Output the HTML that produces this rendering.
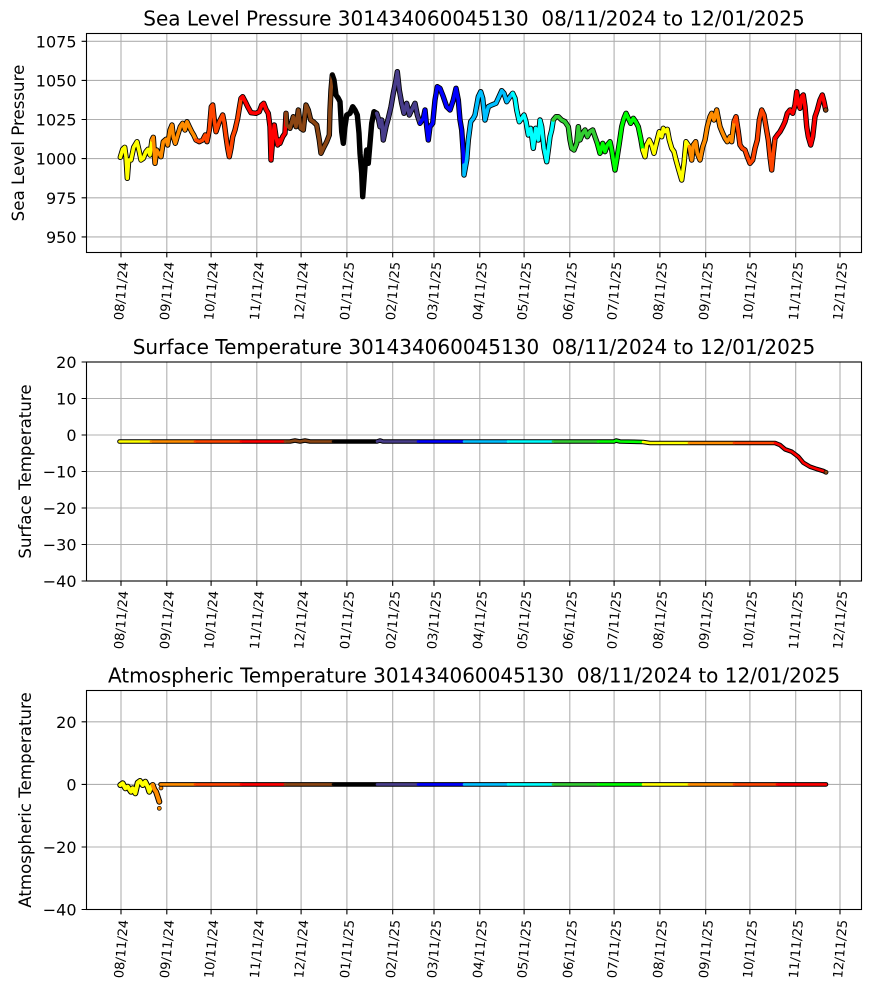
<!DOCTYPE html>
<html><head><meta charset="utf-8"><style>
html,body{margin:0;padding:0;background:#fff;}
svg{display:block;}
text{font-family:"DejaVu Sans","Liberation Sans",sans-serif;fill:#000;}
.t{font-size:20px;white-space:pre;}
.yl{font-size:16.67px;}
.yt{font-size:16px;}
.xt{font-size:13px;}
.g{stroke:#b0b0b0;stroke-width:1.1;fill:none;}
.k{stroke:#000;stroke-width:1.1;fill:none;}
.b{fill:none;stroke:#000;stroke-width:5.4;stroke-linejoin:round;stroke-linecap:round;}
.c{fill:none;stroke-width:3.6;stroke-linejoin:round;stroke-linecap:round;}
.b2{fill:none;stroke:#000;stroke-width:4.6;stroke-linejoin:round;stroke-linecap:round;}
.c2{fill:none;stroke-width:2.6;stroke-linejoin:round;stroke-linecap:round;}
</style></head><body>
<svg width="870" height="992" viewBox="0 0 870 992" xmlns="http://www.w3.org/2000/svg">
<rect width="870" height="992" fill="#fff"/>

<!-- ================= PLOT 1 ================= -->
<g class="g">
<path d="M121,33.5V252.5M166.8,33.5V252.5M211.1,33.5V252.5M256.8,33.5V252.5M301.1,33.5V252.5M346.9,33.5V252.5M392.7,33.5V252.5M434,33.5V252.5M479.8,33.5V252.5M524.1,33.5V252.5M569.8,33.5V252.5M614.1,33.5V252.5M659.9,33.5V252.5M705.7,33.5V252.5M749.9,33.5V252.5M795.7,33.5V252.5M840,33.5V252.5"/>
<path d="M86.5,41.3H861.5M86.5,80.4H861.5M86.5,119.5H861.5M86.5,158.6H861.5M86.5,197.8H861.5M86.5,236.9H861.5"/>
</g>
<g>
<polyline class="b" points="120.3,157.3 122.7,149.3 124.7,147.3 126,156.7 127.3,178.3 128.7,160 131,160 133.7,147.3 137,141.7 139.3,151.7 141,160 143.3,158.3 146,151.7 148,149.3 150,155 152,140 153.3,137.3 155,163.3 156.7,150 158.7,153.3 161,156.7 163.3,141.7 166,139.3 167.7,145 170,130 172,125 173.3,136.7 175.3,143.3 177.7,135 180.3,126.7 182.7,123.3 185,130 187,121.7 189.3,126.7 191.7,131.7 193.7,135 196,140 199.3,141.7 202.7,140 205.3,135 207,141.7 209.3,130 211.3,106.7 212.7,105 214.3,120 216,131.7 217.7,126.7 219.3,121.7 221,118.3 222.7,115 224.3,123.3 226,136.7 227.7,148.3 229.3,156.7 231,148.3 232.7,136.7 235,130 237.7,118.3 239.3,108.3 241,98.3 242.7,96.7 245.3,101.7 247.7,106.7 251,112.7 256,113.3 259.3,111.7 261.7,105 263.7,103.3 266,109.3 268.3,113.3 270,126.7 271,160 272.7,140 274.3,125 276,136.7 277.7,145 279.3,140 280,143.3 282.7,136.7 285,133.3 286,113.3 286.7,125 290,128.3 293.3,116.7 296,126.7 298.3,110 300.7,128.3 303.3,130 306,105 308.3,110 310.7,120 313.3,121.7 316.7,125 319.3,140 321,153.3 323.3,148.3 326.7,141.7 329.3,135 330,110 331,90 332.3,75 334,80 336,95 338.3,98.3 340,101.7 341.7,131.7 343.3,143.3 345,126.7 346.7,115 350,113.3 352.7,106.7 355,110 357.3,115 359,133.3 360,153.3 361.7,173.3 362.7,196.7 365,166.7 366.7,150 368.3,163.3 370,143.3 371.7,123.3 374,111.7 376.7,113.3 378.3,118.3 380,126.7 381.7,120 383.3,140 386,126.7 388.3,118.3 391,106.7 393.3,93.3 396,80 397.3,71.7 399.3,90 401.7,103.3 404,113.3 406.7,103.3 409.3,115 411.7,110 415,103.3 417.3,115 420,123.3 423.3,118.3 425,110 426.7,126.7 428.3,140 430,126.7 432.7,123.3 435,100 437.3,86.7 440,88.3 443.3,96.7 446.7,106.7 450,110 453.3,100 456,88.3 458.3,100 460,120 461.7,130 463.3,153.3 464,175 466.7,160 468.3,140 470.7,121.7 473.3,118.3 475,115 478.3,96.7 480.7,91.7 482.7,98.3 485,120 488.3,106.7 491.7,105 496,103.3 498.3,98.3 501.7,90.7 504,93.3 506.7,101.7 510,96.7 512.7,93.3 515,98.3 516.7,110 519.3,121.7 521.7,118.3 524,115 526,121.7 528.3,135 530.7,128.3 533.3,148.3 535.7,128.3 538.3,140 540,120 541.7,126.7 544,148.3 546.7,161.7 548.3,150 550,136.7 551.7,130 553.3,120 556,116.7 558.3,116.7 561.7,120 565,121.7 568.3,126.7 570,140 571.7,148.3 574,150 576.7,143.3 578.3,126.7 580,140 582.7,133.3 585,130 587.3,136.7 590,131.7 592.7,130 595,136.7 597.3,143.3 600,153.3 602.7,143.3 605,151.7 607.3,145 610,141.7 611.7,150 613.3,160 615,170 616.7,160 619.3,143.3 621.7,126.7 624,118.3 626,113.3 628.3,118.3 630.7,123.3 633.3,118.3 635.7,121.7 638.3,126.7 640.7,138.3 642.7,150 645,156.7 646.7,145 649.3,140 651.7,145 654,153.3 656.7,141.7 659.3,131.7 661.7,136.7 663.3,128.3 665,131.7 667.3,129.3 669.3,140 671.7,148.3 674,151.7 676,160 678.3,168.3 681.7,180 684,163.3 686,141.7 689.3,146.7 691.7,160 693.3,145 695.7,141.7 697.3,153.3 700,160 702.7,146.7 705,140 707.3,126.7 710,116.7 711.7,113.3 714,120 716.7,110 718.3,118.3 720,126.7 722.7,133.3 725,138.3 727.3,141.7 730,136.7 731.7,141.7 734,121.7 736,116.7 738.3,131.7 740,145 742.3,148.3 745,150 747.3,156.7 750,163.3 752.7,160 755,148.3 757.3,140 759.3,120 761.7,110 764,115 766,126.7 768.3,140 770,156.7 771.7,170 773.3,153.3 775,138.3 777.3,135 780,131.7 782.7,126.7 785,121.7 787.3,113.3 790,110 792.7,113.3 795,105 796.7,91.7 798.3,103.3 800,108.3 801.7,96.7 803.3,95 805,106.7 806.7,126.7 808.3,136.7 810.7,145 812.7,136.7 815,116.7 817.3,110 820,100 822.3,95 824,101.7 825.7,110"/>
<polyline class="c" stroke="#ffff00" points="120.3,157.3 122.7,149.3 124.7,147.3 126,156.7 127.3,178.3 128.7,160 131,160 133.7,147.3 137,141.7 139.3,151.7 141,160 143.3,158.3 146,151.7 148,149.3 150,155 152,140"/>
<polyline class="c" stroke="#ff8c00" points="152,140 153.3,137.3 155,163.3 156.7,150 158.7,153.3 161,156.7 163.3,141.7 166,139.3 167.7,145 170,130 172,125 173.3,136.7 175.3,143.3 177.7,135 180.3,126.7 182.7,123.3 185,130 187,121.7 189.3,126.7 191.7,131.7 193.7,135 196,140"/>
<polyline class="c" stroke="#ff4500" points="196,140 199.3,141.7 202.7,140 205.3,135 207,141.7 209.3,130 211.3,106.7 212.7,105 214.3,120 216,131.7 217.7,126.7 219.3,121.7 221,118.3 222.7,115 224.3,123.3 226,136.7 227.7,148.3 229.3,156.7 231,148.3 232.7,136.7 235,130 237.7,118.3 239.3,108.3 241,98.3"/>
<polyline class="c" stroke="#ff0000" points="241,98.3 242.7,96.7 245.3,101.7 247.7,106.7 251,112.7 256,113.3 259.3,111.7 261.7,105 263.7,103.3 266,109.3 268.3,113.3 270,126.7 271,160 272.7,140 274.3,125 276,136.7 277.7,145 279.3,140 280,143.3 282.7,136.7 285,133.3 286,113.3"/>
<polyline class="c" stroke="#8b4513" points="286,113.3 286.7,125 290,128.3 293.3,116.7 296,126.7 298.3,110 300.7,128.3 303.3,130 306,105 308.3,110 310.7,120 313.3,121.7 316.7,125 319.3,140 321,153.3 323.3,148.3 326.7,141.7 329.3,135 330,110 331,90 332.3,75"/>
<polyline class="c" stroke="#000000" points="332.3,75 334,80 336,95 338.3,98.3 340,101.7 341.7,131.7 343.3,143.3 345,126.7 346.7,115 350,113.3 352.7,106.7 355,110 357.3,115 359,133.3 360,153.3 361.7,173.3 362.7,196.7 365,166.7 366.7,150 368.3,163.3 370,143.3 371.7,123.3 374,111.7 376.7,113.3"/>
<polyline class="c" stroke="#483d8b" points="376.7,113.3 378.3,118.3 380,126.7 381.7,120 383.3,140 386,126.7 388.3,118.3 391,106.7 393.3,93.3 396,80 397.3,71.7 399.3,90 401.7,103.3 404,113.3 406.7,103.3 409.3,115 411.7,110 415,103.3 417.3,115 420,123.3"/>
<polyline class="c" stroke="#0000ff" points="420,123.3 423.3,118.3 425,110 426.7,126.7 428.3,140 430,126.7 432.7,123.3 435,100 437.3,86.7 440,88.3 443.3,96.7 446.7,106.7 450,110 453.3,100 456,88.3 458.3,100 460,120 461.7,130 463.3,153.3 464,165"/>
<polyline class="c" stroke="#00bfff" points="464,165 464,175 466.7,160 468.3,140 470.7,121.7 473.3,118.3 475,115 478.3,96.7 480.7,91.7 482.7,98.3 485,120 488.3,106.7 491.7,105 496,103.3 498.3,98.3 501.7,90.7 504,93.3 506.7,101.7 510,96.7 512.7,93.3"/>
<polyline class="c" stroke="#00ffff" points="512.7,93.3 515,98.3 516.7,110 519.3,121.7 521.7,118.3 524,115 526,121.7 528.3,135 530.7,128.3 533.3,148.3 535.7,128.3 538.3,140 540,120 541.7,126.7 544,148.3 546.7,161.7 548.3,150 550,136.7 551.7,130 553.3,120"/>
<polyline class="c" stroke="#32cd32" points="553.3,120 556,116.7 558.3,116.7 561.7,120 565,121.7 568.3,126.7 570,140 571.7,148.3 574,150 576.7,143.3 578.3,126.7 580,140 582.7,133.3 585,130 587.3,136.7 590,131.7 592.7,130 595,136.7 597.3,143.3"/>
<polyline class="c" stroke="#00ff00" points="597.3,143.3 600,153.3 602.7,143.3 605,151.7 607.3,145 610,141.7 611.7,150 613.3,160 615,170 616.7,160 619.3,143.3 621.7,126.7 624,118.3 626,113.3 628.3,118.3 630.7,123.3 633.3,118.3 635.7,121.7 638.3,126.7 640.7,138.3 642.7,150"/>
<polyline class="c" stroke="#ffff00" points="642.7,150 645,156.7 646.7,145 649.3,140 651.7,145 654,153.3 656.7,141.7 659.3,131.7 661.7,136.7 663.3,128.3 665,131.7 667.3,129.3 669.3,140 671.7,148.3 674,151.7 676,160 678.3,168.3 681.7,180 684,163.3 686,141.7 689.3,146.7"/>
<polyline class="c" stroke="#ff8c00" points="689.3,146.7 691.7,160 693.3,145 695.7,141.7 697.3,153.3 700,160 702.7,146.7 705,140 707.3,126.7 710,116.7 711.7,113.3 714,120 716.7,110 718.3,118.3 720,126.7 722.7,133.3 725,138.3 727.3,141.7 730,136.7 731.7,141.7 734,121.7"/>
<polyline class="c" stroke="#ff4500" points="734,121.7 736,116.7 738.3,131.7 740,145 742.3,148.3 745,150 747.3,156.7 750,163.3 752.7,160 755,148.3 757.3,140 759.3,120 761.7,110 764,115 766,126.7 768.3,140 770,156.7 771.7,170 773.3,153.3 775,138.3"/>
<polyline class="c" stroke="#ff0000" points="775,138.3 777.3,135 780,131.7 782.7,126.7 785,121.7 787.3,113.3 790,110 792.7,113.3 795,105 796.7,91.7 798.3,103.3 800,108.3 801.7,96.7 803.3,95 805,106.7 806.7,126.7 808.3,136.7 810.7,145 812.7,136.7 815,116.7 817.3,110 820,100 822.3,95 824,101.7 825.7,110"/>
<circle cx="825.7" cy="110" r="2.2" fill="#8b4513" stroke="#000" stroke-width="0.7"/>
</g>
<rect x="86.5" y="33.5" width="775" height="219" class="k"/>
<g class="k">
<path d="M121,252.5v4.9M166.8,252.5v4.9M211.1,252.5v4.9M256.8,252.5v4.9M301.1,252.5v4.9M346.9,252.5v4.9M392.7,252.5v4.9M434,252.5v4.9M479.8,252.5v4.9M524.1,252.5v4.9M569.8,252.5v4.9M614.1,252.5v4.9M659.9,252.5v4.9M705.7,252.5v4.9M749.9,252.5v4.9M795.7,252.5v4.9M840,252.5v4.9"/>
<path d="M86.5,41.3h-4.9M86.5,80.4h-4.9M86.5,119.5h-4.9M86.5,158.6h-4.9M86.5,197.8h-4.9M86.5,236.9h-4.9"/>
</g>
<g class="yt" text-anchor="end">
<text x="76.5" y="47.3">1075</text>
<text x="76.5" y="86.4">1050</text>
<text x="76.5" y="125.5">1025</text>
<text x="76.5" y="164.6">1000</text>
<text x="76.5" y="203.8">975</text>
<text x="76.5" y="242.9">950</text>
</g>
<g class="xt" text-anchor="middle">
<text transform="translate(121,291) rotate(-85)" dy="0.36em">08/11/24</text>
<text transform="translate(166.8,291) rotate(-85)" dy="0.36em">09/11/24</text>
<text transform="translate(211.1,291) rotate(-85)" dy="0.36em">10/11/24</text>
<text transform="translate(256.8,291) rotate(-85)" dy="0.36em">11/11/24</text>
<text transform="translate(301.1,291) rotate(-85)" dy="0.36em">12/11/24</text>
<text transform="translate(346.9,291) rotate(-85)" dy="0.36em">01/11/25</text>
<text transform="translate(392.7,291) rotate(-85)" dy="0.36em">02/11/25</text>
<text transform="translate(434,291) rotate(-85)" dy="0.36em">03/11/25</text>
<text transform="translate(479.8,291) rotate(-85)" dy="0.36em">04/11/25</text>
<text transform="translate(524.1,291) rotate(-85)" dy="0.36em">05/11/25</text>
<text transform="translate(569.8,291) rotate(-85)" dy="0.36em">06/11/25</text>
<text transform="translate(614.1,291) rotate(-85)" dy="0.36em">07/11/25</text>
<text transform="translate(659.9,291) rotate(-85)" dy="0.36em">08/11/25</text>
<text transform="translate(705.7,291) rotate(-85)" dy="0.36em">09/11/25</text>
<text transform="translate(749.9,291) rotate(-85)" dy="0.36em">10/11/25</text>
<text transform="translate(795.7,291) rotate(-85)" dy="0.36em">11/11/25</text>
<text transform="translate(840,291) rotate(-85)" dy="0.36em">12/11/25</text>
</g>
<text class="yl" text-anchor="middle" transform="translate(18,143) rotate(-90)" dy="0.36em">Sea Level Pressure</text>
<text class="t" x="474" y="25.3" text-anchor="middle">Sea Level Pressure 301434060045130  08/11/2024 to 12/01/2025</text>

<!-- ================= PLOT 2 ================= -->
<g class="g">
<path d="M121,362V581M166.8,362V581M211.1,362V581M256.8,362V581M301.1,362V581M346.9,362V581M392.7,362V581M434,362V581M479.8,362V581M524.1,362V581M569.8,362V581M614.1,362V581M659.9,362V581M705.7,362V581M749.9,362V581M795.7,362V581M840,362V581"/>
<path d="M86.5,398.5H861.5M86.5,435H861.5M86.5,471.5H861.5M86.5,508H861.5M86.5,544.5H861.5"/>
</g>
<g>
<polyline class="b2" points="119.5,441.5 290,441.5 295,440.5 300,441.5 305,440.5 310,441.5 333,441.5 377,441.5 380,440.5 383,441.5 614,441.5 616,440.5 620,441.5 643,442 650,443 775,443 780,445 785,449.3 791.7,451.7 798.3,456.7 803.3,462.7 810,466.7 816.7,469 823.3,471 826,472.3"/>
<polyline class="c2" stroke="#ffff00" points="119.5,441.5 151,441.5"/>
<polyline class="c2" stroke="#ff8c00" points="151,441.5 195,441.5"/>
<polyline class="c2" stroke="#ff4500" points="195,441.5 241,441.5"/>
<polyline class="c2" stroke="#ff0000" points="241,441.5 285,441.5"/>
<polyline class="c2" stroke="#8b4513" points="285,441.5 290,441.5 295,440.5 300,441.5 305,440.5 310,441.5 333,441.5"/>
<polyline class="c2" stroke="#000000" points="333,441.5 377,441.5"/>
<polyline class="c2" stroke="#483d8b" points="377,441.5 380,440.5 383,441.5 418,441.5"/>
<polyline class="c2" stroke="#0000ff" points="418,441.5 464,441.5"/>
<polyline class="c2" stroke="#00bfff" points="464,441.5 508,441.5"/>
<polyline class="c2" stroke="#00ffff" points="508,441.5 553,441.5"/>
<polyline class="c2" stroke="#32cd32" points="553,441.5 598,441.5"/>
<polyline class="c2" stroke="#00ff00" points="598,441.5 614,441.5 616,440.5 620,441.5 643,442"/>
<polyline class="c2" stroke="#ffff00" points="643,442 650,443 689,443"/>
<polyline class="c2" stroke="#ff8c00" points="689,443 734,443"/>
<polyline class="c2" stroke="#ff4500" points="734,443 775,443"/>
<polyline class="c2" stroke="#ff0000" points="775,443 780,445 785,449.3 791.7,451.7 798.3,456.7 803.3,462.7 810,466.7 816.7,469 823.3,471 826,472.3"/>
<circle cx="826" cy="472.3" r="2" fill="#8b4513" stroke="#000" stroke-width="0.7"/>
</g>
<rect x="86.5" y="362" width="775" height="219" class="k"/>
<g class="k">
<path d="M121,581v4.9M166.8,581v4.9M211.1,581v4.9M256.8,581v4.9M301.1,581v4.9M346.9,581v4.9M392.7,581v4.9M434,581v4.9M479.8,581v4.9M524.1,581v4.9M569.8,581v4.9M614.1,581v4.9M659.9,581v4.9M705.7,581v4.9M749.9,581v4.9M795.7,581v4.9M840,581v4.9"/>
<path d="M86.5,362h-4.9M86.5,398.5h-4.9M86.5,435h-4.9M86.5,471.5h-4.9M86.5,508h-4.9M86.5,544.5h-4.9M86.5,581h-4.9"/>
</g>
<g class="yt" text-anchor="end">
<text x="76.5" y="368">20</text>
<text x="76.5" y="404.5">10</text>
<text x="76.5" y="441">0</text>
<text x="76.5" y="477.5">−10</text>
<text x="76.5" y="514">−20</text>
<text x="76.5" y="550.5">−30</text>
<text x="76.5" y="587">−40</text>
</g>
<g class="xt" text-anchor="middle">
<text transform="translate(121,620) rotate(-85)" dy="0.36em">08/11/24</text>
<text transform="translate(166.8,620) rotate(-85)" dy="0.36em">09/11/24</text>
<text transform="translate(211.1,620) rotate(-85)" dy="0.36em">10/11/24</text>
<text transform="translate(256.8,620) rotate(-85)" dy="0.36em">11/11/24</text>
<text transform="translate(301.1,620) rotate(-85)" dy="0.36em">12/11/24</text>
<text transform="translate(346.9,620) rotate(-85)" dy="0.36em">01/11/25</text>
<text transform="translate(392.7,620) rotate(-85)" dy="0.36em">02/11/25</text>
<text transform="translate(434,620) rotate(-85)" dy="0.36em">03/11/25</text>
<text transform="translate(479.8,620) rotate(-85)" dy="0.36em">04/11/25</text>
<text transform="translate(524.1,620) rotate(-85)" dy="0.36em">05/11/25</text>
<text transform="translate(569.8,620) rotate(-85)" dy="0.36em">06/11/25</text>
<text transform="translate(614.1,620) rotate(-85)" dy="0.36em">07/11/25</text>
<text transform="translate(659.9,620) rotate(-85)" dy="0.36em">08/11/25</text>
<text transform="translate(705.7,620) rotate(-85)" dy="0.36em">09/11/25</text>
<text transform="translate(749.9,620) rotate(-85)" dy="0.36em">10/11/25</text>
<text transform="translate(795.7,620) rotate(-85)" dy="0.36em">11/11/25</text>
<text transform="translate(840,620) rotate(-85)" dy="0.36em">12/11/25</text>
</g>
<text class="yl" text-anchor="middle" transform="translate(25,471.5) rotate(-90)" dy="0.36em">Surface Temperature</text>
<text class="t" x="474" y="353.8" text-anchor="middle">Surface Temperature 301434060045130  08/11/2024 to 12/01/2025</text>

<!-- ================= PLOT 3 ================= -->
<g class="g">
<path d="M121,690.5V909.5M166.8,690.5V909.5M211.1,690.5V909.5M256.8,690.5V909.5M301.1,690.5V909.5M346.9,690.5V909.5M392.7,690.5V909.5M434,690.5V909.5M479.8,690.5V909.5M524.1,690.5V909.5M569.8,690.5V909.5M614.1,690.5V909.5M659.9,690.5V909.5M705.7,690.5V909.5M749.9,690.5V909.5M795.7,690.5V909.5M840,690.5V909.5"/>
<path d="M86.5,721.8H861.5M86.5,784.4H861.5M86.5,847H861.5"/>
</g>
<g>
<polyline class="b" style="stroke-width:6" points="120.3,785 122.7,783.3 125.3,788.3 127.7,786.7 131,791.7 132.7,788.3 135.3,793.3 137.7,782.7 140,781 142.7,785 145.3,781.7 147.7,786.7 149.3,791.7 151,786.7 152.7,785 154.3,789.3 156,791.7 157.7,796.7 159.3,801.7"/>
<polyline class="c" style="stroke-width:4" stroke="#ffff00" points="120.3,785 122.7,783.3 125.3,788.3 127.7,786.7 131,791.7 132.7,788.3 135.3,793.3 137.7,782.7 140,781 142.7,785 145.3,781.7 147.7,786.7 149.3,791.7 151,786.7 152.7,785"/>
<polyline class="c" style="stroke-width:4" stroke="#ff8c00" points="152.7,785 154.3,789.3 156,791.7 157.7,796.7 159.3,801.7"/>
<circle cx="159.3" cy="808.3" r="2" fill="#ff8c00" stroke="#000" stroke-width="0.7"/>
<circle cx="161" cy="788" r="2" fill="#ff8c00" stroke="#000" stroke-width="0.7"/>
<polyline class="b2" points="160.5,784.4 826,784.4"/>
<polyline class="c2" stroke="#ff8c00" points="160.5,784.4 195,784.4"/>
<polyline class="c2" stroke="#ff4500" points="195,784.4 241,784.4"/>
<polyline class="c2" stroke="#ff0000" points="241,784.4 285,784.4"/>
<polyline class="c2" stroke="#8b4513" points="285,784.4 333,784.4"/>
<polyline class="c2" stroke="#000000" points="333,784.4 377,784.4"/>
<polyline class="c2" stroke="#483d8b" points="377,784.4 418,784.4"/>
<polyline class="c2" stroke="#0000ff" points="418,784.4 464,784.4"/>
<polyline class="c2" stroke="#00bfff" points="464,784.4 508,784.4"/>
<polyline class="c2" stroke="#00ffff" points="508,784.4 553,784.4"/>
<polyline class="c2" stroke="#32cd32" points="553,784.4 598,784.4"/>
<polyline class="c2" stroke="#00ff00" points="598,784.4 643,784.4"/>
<polyline class="c2" stroke="#ffff00" points="643,784.4 689,784.4"/>
<polyline class="c2" stroke="#ff8c00" points="689,784.4 734,784.4"/>
<polyline class="c2" stroke="#ff4500" points="734,784.4 777,784.4"/>
<polyline class="c2" stroke="#ff0000" points="777,784.4 826,784.4"/>
</g>
<rect x="86.5" y="690.5" width="775" height="219" class="k"/>
<g class="k">
<path d="M121,909.5v4.9M166.8,909.5v4.9M211.1,909.5v4.9M256.8,909.5v4.9M301.1,909.5v4.9M346.9,909.5v4.9M392.7,909.5v4.9M434,909.5v4.9M479.8,909.5v4.9M524.1,909.5v4.9M569.8,909.5v4.9M614.1,909.5v4.9M659.9,909.5v4.9M705.7,909.5v4.9M749.9,909.5v4.9M795.7,909.5v4.9M840,909.5v4.9"/>
<path d="M86.5,721.8h-4.9M86.5,784.4h-4.9M86.5,847h-4.9M86.5,909.5h-4.9"/>
</g>
<g class="yt" text-anchor="end">
<text x="76.5" y="727.8">20</text>
<text x="76.5" y="790.4">0</text>
<text x="76.5" y="853">−20</text>
<text x="76.5" y="915.5">−40</text>
</g>
<g class="xt" text-anchor="middle">
<text transform="translate(121,949) rotate(-85)" dy="0.36em">08/11/24</text>
<text transform="translate(166.8,949) rotate(-85)" dy="0.36em">09/11/24</text>
<text transform="translate(211.1,949) rotate(-85)" dy="0.36em">10/11/24</text>
<text transform="translate(256.8,949) rotate(-85)" dy="0.36em">11/11/24</text>
<text transform="translate(301.1,949) rotate(-85)" dy="0.36em">12/11/24</text>
<text transform="translate(346.9,949) rotate(-85)" dy="0.36em">01/11/25</text>
<text transform="translate(392.7,949) rotate(-85)" dy="0.36em">02/11/25</text>
<text transform="translate(434,949) rotate(-85)" dy="0.36em">03/11/25</text>
<text transform="translate(479.8,949) rotate(-85)" dy="0.36em">04/11/25</text>
<text transform="translate(524.1,949) rotate(-85)" dy="0.36em">05/11/25</text>
<text transform="translate(569.8,949) rotate(-85)" dy="0.36em">06/11/25</text>
<text transform="translate(614.1,949) rotate(-85)" dy="0.36em">07/11/25</text>
<text transform="translate(659.9,949) rotate(-85)" dy="0.36em">08/11/25</text>
<text transform="translate(705.7,949) rotate(-85)" dy="0.36em">09/11/25</text>
<text transform="translate(749.9,949) rotate(-85)" dy="0.36em">10/11/25</text>
<text transform="translate(795.7,949) rotate(-85)" dy="0.36em">11/11/25</text>
<text transform="translate(840,949) rotate(-85)" dy="0.36em">12/11/25</text>
</g>
<text class="yl" text-anchor="middle" transform="translate(25,800) rotate(-90)" dy="0.36em">Atmospheric Temperature</text>
<text class="t" x="474" y="682.5" text-anchor="middle">Atmospheric Temperature 301434060045130  08/11/2024 to 12/01/2025</text>
</svg>
</body></html>
